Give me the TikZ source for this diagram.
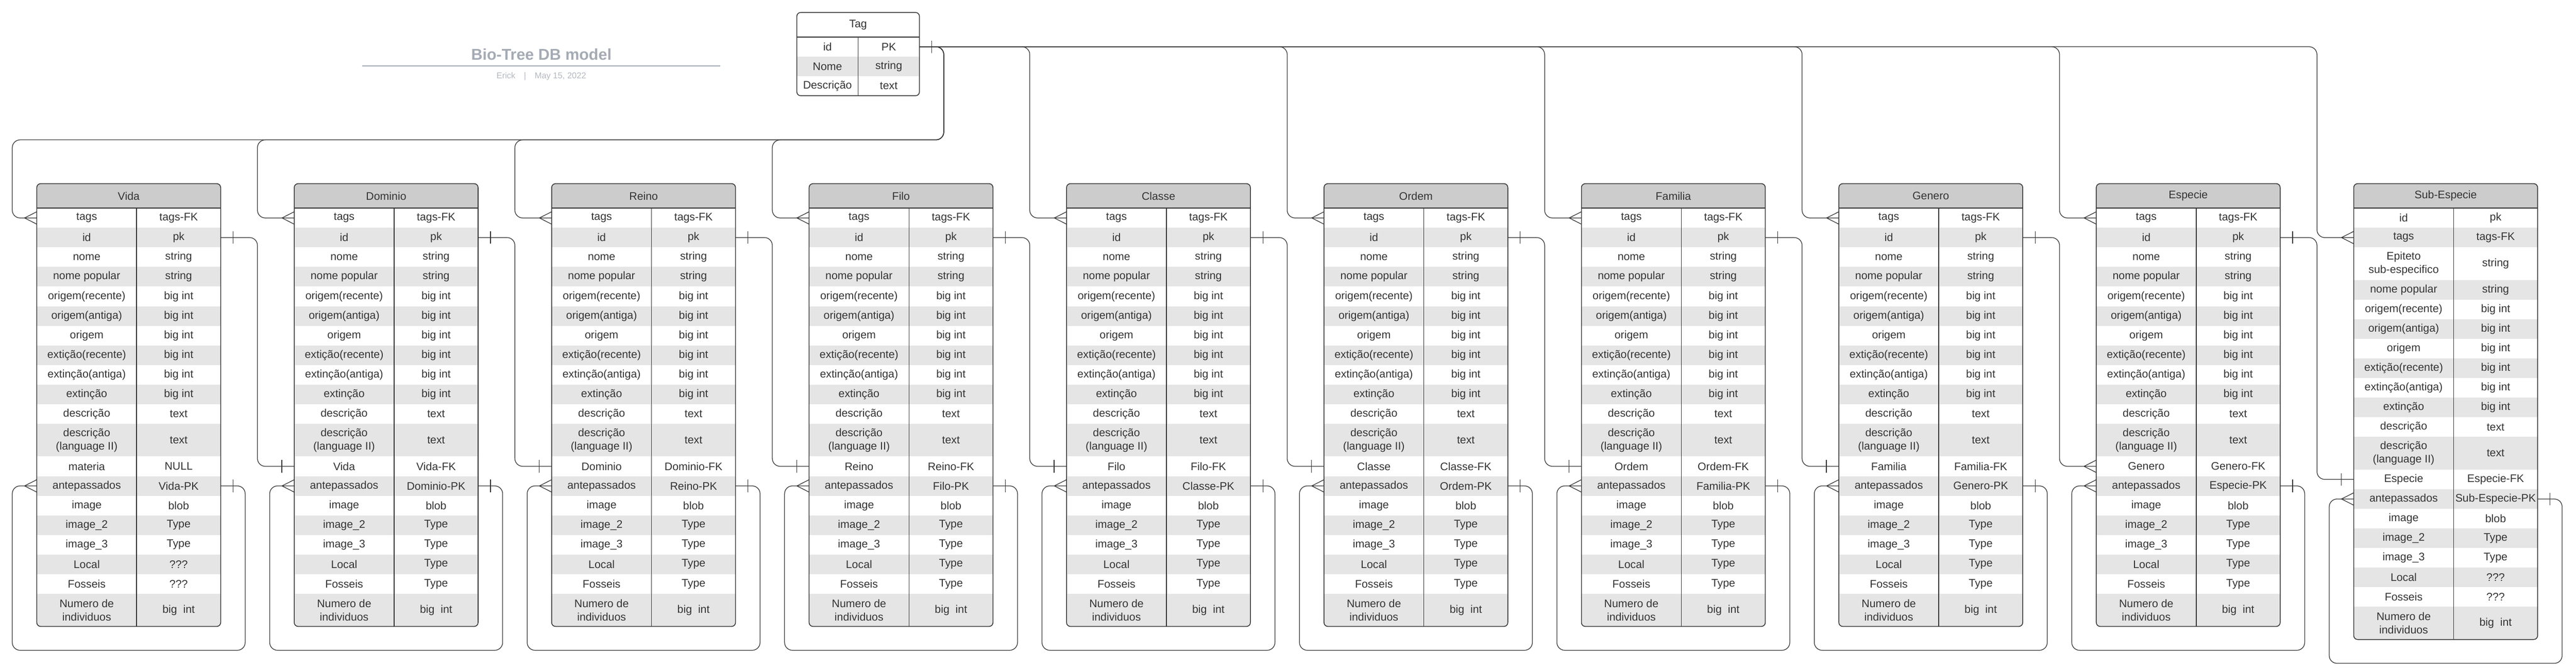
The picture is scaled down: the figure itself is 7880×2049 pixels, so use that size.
\documentclass[tikz,border=0pt]{standalone}
\usepackage{fontspec}
\setmainfont{Liberation Sans}
\usetikzlibrary{positioning, calc}

\definecolor{ink}{HTML}{333333}
\definecolor{hdrgray}{HTML}{CCCCCC}
\definecolor{rowgray}{HTML}{E5E5E5}
\definecolor{titlegray}{HTML}{A5ABB4}
\definecolor{subgray}{HTML}{B4B9C0}

\tikzset{
    cell/.style={rectangle, inner sep=0pt, outer sep=0pt, align=center, text=ink, font=\fontsize{8.4pt}{10.1pt}\selectfont},
    lcell/.style={cell, minimum width=76.375pt},
    rcell/.style={cell, minimum width=64.25pt},
    hdr/.style={cell, fill=hdrgray, minimum width=140.625pt, minimum height=18.75pt},
    tbl/.style={draw=ink, line width=0.6pt},
    conn/.style={draw=ink, line width=0.5pt, rounded corners=6pt},
    onebar/.pic={\draw[conn, sharp corners] (-38,-19) -- (-38,19);},
    crowfoot/.pic={\draw[conn, sharp corners] (0,-19) -- (-37.5,0) -- (0,19);}
}

% table: name, left x, title, bottom y, rows (left/right/height)
\newcommand{\ertable}[5]{
    \begin{scope}
        \clip[rounded corners=3pt] (#2,562) rectangle (#2+562.5,#4);
        \node[hdr, anchor=north west] (#1-h) at (#2,562) {#3};
        \foreach \fa/\fb/\fh [count=\ri] in {#5} {
            \ifodd\ri \def\rf{white}\else \def\rf{rowgray}\fi
            \ifnum\ri=1
                \node[lcell, fill=\rf, minimum height=\fh, anchor=north west] (#1-\ri-l) at (#1-h.south west) {\fa};
            \else
                \pgfmathtruncatemacro{\rp}{\ri-1}
                \node[lcell, fill=\rf, minimum height=\fh, below=0pt of #1-\rp-l] (#1-\ri-l) {\fa};
            \fi
            \node[rcell, fill=\rf, minimum height=\fh, right=0pt of #1-\ri-l] (#1-\ri-r) {\fb};
        }
    \end{scope}
    \draw[tbl] (#1-h.south west) -- (#1-h.south east);
    \draw[tbl] (#1-1-l.north east) -- (#1-20-l.south east);
    \draw[tbl, rounded corners=3pt] (#1-h.north west) rectangle (#1-20-r.south east);
}

% taxon table: name, left x, title, fk left, fk right, type of Local/Fosseis
\newcommand{\taxtable}[6]{
    \ertable{#1}{#2}{#3}{1917}{tags/tags-FK/15pt, id/pk/15pt, nome/string/15pt,
        nome popular/string/15pt, origem(recente)/big int/15pt, origem(antiga)/big int/15pt,
        origem/big int/15pt, extição(recente)/big int/15pt, extinção(antiga)/big int/15pt,
        extinção/big int/15pt, descrição/text/15pt, {descrição\\(language II)}/text/25pt,
        #4/#5/15pt, antepassados/#3-PK/15pt, image/blob/15pt, image\_2/Type/15pt,
        image\_3/Type/15pt, Local/#6/15pt, Fosseis/#6/15pt, {Numero de\\individuos}/{big~ int}/25pt}
}

\begin{document}
\begin{tikzpicture}[x=0.25pt, y=-0.25pt]

\fill[white] (0,0) rectangle (7880,2049);
\useasboundingbox (0,0) rectangle (7880,2049);

% Title
\node[font=\fontsize{12pt}{14pt}\selectfont\bfseries, text=titlegray] (title) at (1656,167) {Bio-Tree DB model};
\node[fill=titlegray, inner sep=0pt, minimum width=274pt, minimum height=0.9pt] (rule) at (1656,202) {};
\node[font=\fontsize{6.5pt}{8pt}\selectfont, text=subgray, anchor=base] (sub) at (1656,240) {Erick\quad|\quad May 15, 2022};

% Tag
\begin{scope}
    \clip[rounded corners=3pt] (2437.5,38) rectangle (2812.5,293);
    \node[hdr, fill=white, minimum width=93.75pt, anchor=north west] (tag-h) at (2437.5,38) {Tag};
    \foreach \fa/\fb [count=\ri] in {id/PK, Nome/string, {Descrição}/text} {
        \ifodd\ri \def\rf{white}\else \def\rf{rowgray}\fi
        \ifnum\ri=1
            \node[cell, fill=\rf, minimum width=46.875pt, minimum height=15pt, anchor=north west] (tag-\ri-l) at (tag-h.south west) {\fa};
        \else
            \pgfmathtruncatemacro{\rp}{\ri-1}
            \node[cell, fill=\rf, minimum width=46.875pt, minimum height=15pt, below=0pt of tag-\rp-l] (tag-\ri-l) {\fa};
        \fi
        \node[cell, fill=\rf, minimum width=46.875pt, minimum height=15pt, right=0pt of tag-\ri-l] (tag-\ri-r) {\fb};
    }
\end{scope}
\draw[tbl, line width=0.9pt] (tag-h.south west) -- (tag-h.south east);
\draw[tbl] (tag-1-l.north east) -- (tag-3-l.south east);
\draw[tbl, rounded corners=3pt] (tag-h.north west) rectangle (tag-3-r.south east);

% Taxon tables
\taxtable{vida}{112.5}{Vida}{materia}{NULL}{???}
\taxtable{dominio}{900}{Dominio}{Vida}{Vida-FK}{Type}
\taxtable{reino}{1687.5}{Reino}{Dominio}{Dominio-FK}{Type}
\taxtable{filo}{2475}{Filo}{Reino}{Reino-FK}{Type}
\taxtable{classe}{3262.5}{Classe}{Filo}{Filo-FK}{Type}
\taxtable{ordem}{4050}{Ordem}{Classe}{Classe-FK}{Type}
\taxtable{familia}{4837.5}{Familia}{Ordem}{Ordem-FK}{Type}
\taxtable{genero}{5625}{Genero}{Familia}{Familia-FK}{Type}
\taxtable{especie}{6412.5}{Especie}{Genero}{Genero-FK}{Type}
\ertable{subesp}{7200}{Sub-Especie}{1957}{id/pk/15pt, tags/tags-FK/15pt, {Epiteto\\sub-especifico}/string/25pt,
    nome popular/string/15pt, origem(recente)/big int/15pt, origem(antiga)/big int/15pt,
    origem/big int/15pt, extição(recente)/big int/15pt, extinção(antiga)/big int/15pt,
    extinção/big int/15pt, descrição/text/15pt, {descrição\\(language II)}/text/25pt,
    Especie/Especie-FK/15pt, antepassados/Sub-Especie-PK/15pt, image/blob/15pt, image\_2/Type/15pt,
    image\_3/Type/15pt, Local/???/15pt, Fosseis/???/15pt, {Numero de\\individuos}/{big~ int}/25pt}

% Tag to tags rows
\coordinate (tagbus) at (2887,428);
\draw[conn] (tag-1-r.east) -| (tagbus) -| ($(vida-1-l.west)+(-75,0)$) -- (vida-1-l.west);
\foreach \t in {dominio, reino, filo}
    \draw[conn] (tag-1-r.east) -| (tagbus) -| ($(\t-1-l.west)+(-112.5,0)$) -- (\t-1-l.west);
\foreach \t in {classe, ordem, familia, genero, especie}
    \draw[conn] (tag-1-r.east) -| ($(\t-1-l.west)+(-112.5,0)$) -- (\t-1-l.west);
\draw[conn] (tag-1-r.east) -| ($(subesp-2-l.west)+(-112.5,0)$) -- (subesp-2-l.west);
\pic[rotate=180] at (tag-1-r.east) {onebar};
\foreach \t/\r in {vida/1, dominio/1, reino/1, filo/1, classe/1, ordem/1, familia/1, genero/1, especie/1, subesp/2}
    \pic at (\t-\r-l.west) {crowfoot};

% Parent id to child FK
\foreach \a/\b in {vida/dominio, dominio/reino, reino/filo, filo/classe, classe/ordem, ordem/familia, familia/genero, genero/especie, especie/subesp} {
    \draw[conn] (\a-2-r.east) -| ($(\b-13-l.west)+(-112.5,0)$) -- (\b-13-l.west);
    \pic[rotate=180] at (\a-2-r.east) {onebar};
}
\foreach \b in {dominio, reino, filo, classe, ordem, familia, genero, subesp}
    \pic at (\b-13-l.west) {onebar};
\pic at (especie-13-l.west) {crowfoot};

% Antepassados loops
\foreach \t in {vida, dominio, reino, filo, classe, ordem, familia, genero, especie, subesp} {
    \draw[conn] (\t-14-r.east) -| ($(\t-20-r.south east)+(75,73)$) -| ($(\t-14-l.west)+(-75,0)$) -- (\t-14-l.west);
    \pic[rotate=180] at (\t-14-r.east) {onebar};
    \pic at (\t-14-l.west) {crowfoot};
}

\end{tikzpicture}
\end{document}
